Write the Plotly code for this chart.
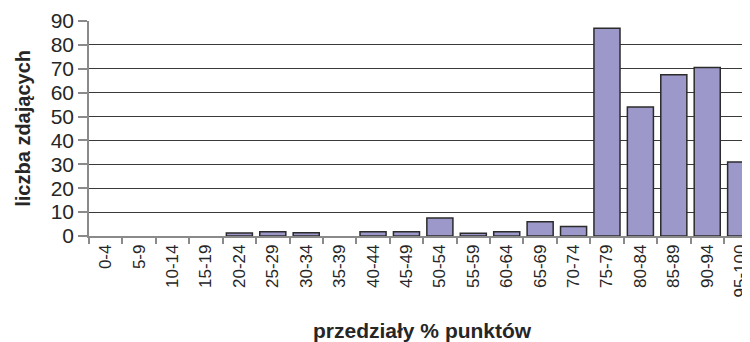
import plotly.graph_objects as go

categories = ["0-4", "5-9", "10-14", "15-19", "20-24", "25-29", "30-34", "35-39",
              "40-44", "45-49", "50-54", "55-59", "60-64", "65-69", "70-74",
              "75-79", "80-84", "85-89", "90-94", "95-100"]
counts = [0, 0, 0, 0, 1.3, 1.8, 1.4, 0, 1.8, 1.8, 7.5, 1.2, 1.8, 6, 4,
          87, 54, 67.5, 70.5, 31]
y_ticks = [0, 10, 20, 30, 40, 50, 60, 70, 80, 90]

FONT = "Liberation Sans, Arial, sans-serif"
TXT = "#262626"

# zero-count bins draw no bar in the reference
bar_vals = [v if v else None for v in counts]

fig = go.Figure(go.Bar(
    x=categories, y=bar_vals,
    marker=dict(color="#9C98CA", line=dict(color="#2b2b2b", width=1.5)),
    width=0.78,
))

fig.update_layout(
    width=742, height=334,
    margin=dict(l=81, r=0, t=13, b=106, autoexpand=False),
    paper_bgcolor="white", plot_bgcolor="white",
    showlegend=False,
    font=dict(family=FONT, color=TXT),
    xaxis=dict(
        type="category", categoryorder="array", categoryarray=categories,
        range=[-0.5, 19.28], automargin=False,
        showline=True, linecolor="#8a8a8a", linewidth=1.5,
        ticks="outside", tickson="boundaries", ticklen=6, tickcolor="#8a8a8a", tickwidth=1.5,
        tickangle=-90, tickfont=dict(size=17, family=FONT, color=TXT),
        showgrid=False,
    ),
    yaxis=dict(
        range=[0, 90], tickvals=y_ticks, automargin=False,
        showline=True, linecolor="#8a8a8a", linewidth=1.5,
        ticks="outside", ticklen=9, tickcolor="#8a8a8a", tickwidth=1.5,
        tickfont=dict(size=21, family=FONT, color=TXT),
        showgrid=True, gridcolor="#3a3a3a", gridwidth=1,
        zeroline=False,
    ),
    annotations=[
        dict(text="<b>przedziały % punktów</b>", xref="paper", yref="paper",
             x=0.505, y=-0.44, xanchor="center", yanchor="middle", showarrow=False,
             font=dict(size=21, family=FONT, color=TXT)),
        dict(text="<b>liczba zdających</b>", xref="paper", yref="paper",
             x=-0.101, y=0.5, xanchor="center", yanchor="middle", textangle=-90,
             showarrow=False, font=dict(size=20, family=FONT, color=TXT)),
    ],
)

fig.write_html("out.html")
